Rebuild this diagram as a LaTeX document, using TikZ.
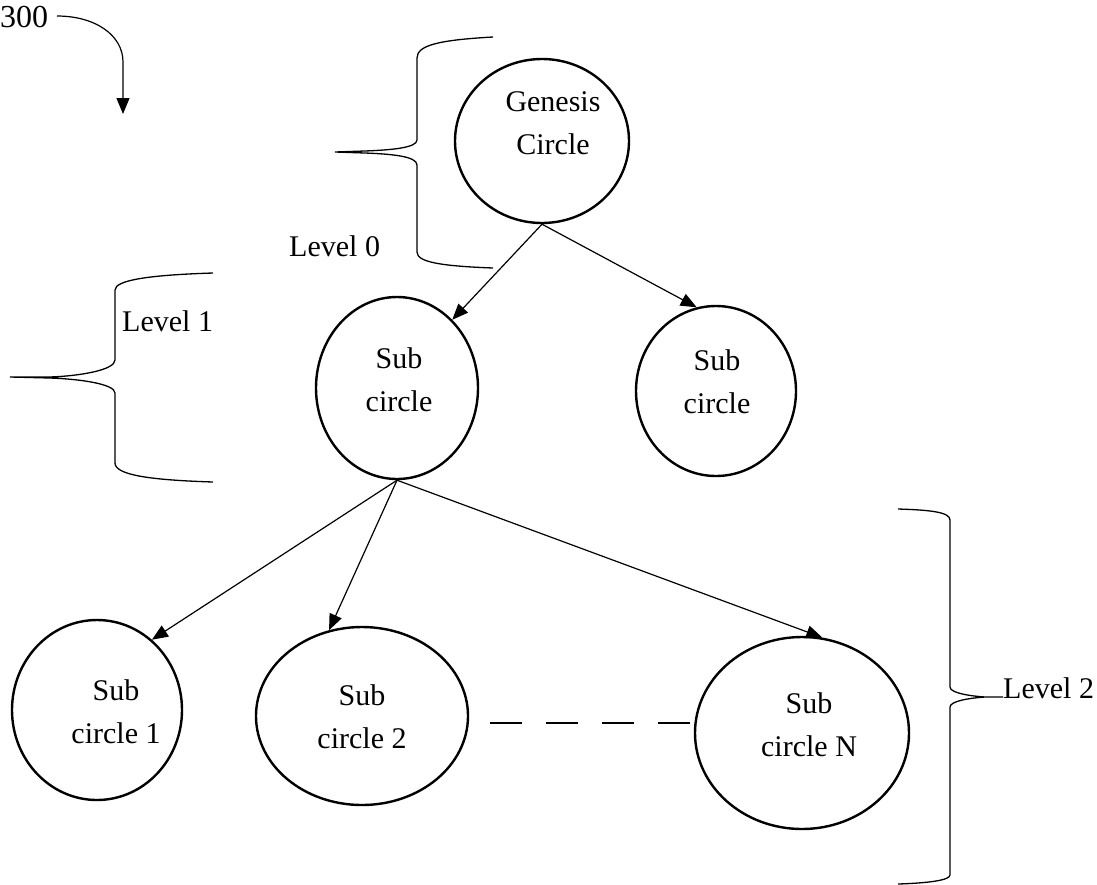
\documentclass[tikz,border=0pt]{standalone}
\usepackage{fontspec}
\setmainfont{Liberation Serif}
\usetikzlibrary{shapes.geometric,arrows.meta}
\begin{document}
\begin{tikzpicture}[x=1pt,y=-1pt,
  circ/.style={draw,ellipse,line width=2.4pt,inner sep=0pt},
  ctext/.style={align=center,font=\fontsize{30}{43}\selectfont},
  lvl/.style={font=\fontsize{30}{35}\selectfont,inner sep=0pt},
  link/.style={line width=1.2pt,-{Triangle[length=16pt,width=13pt]}},
  brace/.style={line width=1.3pt}]
\useasboundingbox (0,0) rectangle (1097,884);

% circles of the hierarchy
\node[circ,minimum width=174pt,minimum height=164pt] (G)  at (542,141) {};
\node[circ,minimum width=162pt,minimum height=182pt] (A)  at (397,388) {};
\node[circ,minimum width=160pt,minimum height=170pt] (B)  at (716,391) {};
\node[circ,minimum width=170pt,minimum height=180pt] (S1) at (97,710) {};
\node[circ,minimum width=212pt,minimum height=178pt] (S2) at (362,716) {};
\node[circ,minimum width=214pt,minimum height=192pt] (SN) at (802,733) {};

% labels inside the circles
\node[ctext] (Gt)  at (553,123) {Genesis\\Circle};
\node[ctext] (At)  at (399,380) {Sub\\circle};
\node[ctext] (Bt)  at (717,382) {Sub\\circle};
\node[ctext] (S1t) at (116,712) {Sub\\circle 1};
\node[ctext] (S2t) at (362,717) {Sub\\circle 2};
\node[ctext] (SNt) at (809,725) {Sub\\circle N};

% parent-child links
\draw[link] (G.south) -- (A.51);
\draw[link] (G.south) -- (B.103);
\draw[link] (A.south) -- (S1.52);
\draw[link] (A.south) -- (S2.111);
\draw[link] (A.south) -- (SN.78);

% elided siblings
\coordinate (dash0) at (490,723);
\draw[line width=1.3pt,dash pattern=on 32pt off 24pt] (dash0) -- (dash0 -| SN.west);

% reference numeral
\node[lvl,anchor=base west,font=\fontsize{32}{35}\selectfont] (ref) at (0,27) {300};
\coordinate (refstart) at (57,16);
\coordinate (refend) at (123,114);
\draw[line width=1.2pt,-{Triangle[length=16pt,width=13pt]}]
  (refstart) .. controls (95,16) and (123,35) .. (123,62) -- (refend);

% level braces
\draw[brace] (493,37) .. controls (440,40) and (417,45) .. (417,58) -- (417,140)
  .. controls (417,148) and (390,150) .. (365,151) -- (335,152) -- (365,153)
  .. controls (390,154) and (417,156) .. (417,165) -- (417,252)
  .. controls (417,262) and (440,266) .. (493,268);
\node[lvl,anchor=base west] (L0) at (289,256) {Level 0};

\draw[brace] (213,273) .. controls (150,275) and (115,280) .. (115,290) -- (115,360)
  .. controls (115,370) and (80,376) .. (50,377) -- (10,377) -- (50,378)
  .. controls (80,379) and (115,384) .. (115,393) -- (115,463)
  .. controls (115,475) and (150,480) .. (213,482);
\node[lvl,anchor=base west] (L1) at (122,331) {Level 1};

\draw[brace] (898,509) .. controls (930,510) and (950,512) .. (950,520) -- (950,687)
  .. controls (950,693) and (970,696) .. (985,697) -- (1003,697) -- (985,697)
  .. controls (970,698) and (950,701) .. (950,707) -- (950,875)
  .. controls (950,880) and (930,883) .. (898,884);
\node[lvl,anchor=base west] (L2) at (1003,698) {Level 2};
\end{tikzpicture}
\end{document}
